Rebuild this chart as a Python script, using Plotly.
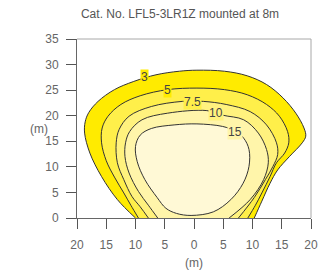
import plotly.graph_objects as go

# ---- data (metres) ----
levels = ["3", "5", "7.5", "10", "15"]
fill_colors = ["#FFEB00", "#FFEF4A", "#FFF27E", "#FFF5AA", "#FFF9D6"]

c3_x = [-10.0, -13.1, -15.8, -17.8, -18.7, -18.6, -18.0, -16.4, -13.6, -10.3, -6.5, -2.5, 0.5, 5.2, 9.1, 12.4, 15.2, 17.4, 18.8, 19.1, 18.5, 16.3, 14.3, 13.0, 11.6, 10.3]
c3_y = [0.0, 3.6, 8.1, 12.7, 16.6, 18.8, 20.6, 22.8, 25.1, 26.7, 28.0, 28.7, 28.9, 28.7, 27.8, 26.1, 23.5, 20.5, 17.6, 16.0, 14.7, 12.0, 9.4, 6.8, 3.3, 0.0]

c5_x = [-9.5, -10.8, -12.0, -13.6, -15.0, -15.8, -15.7, -14.7, -12.5, -9.2, -4.5, 0.5, 5.2, 9.1, 12.4, 14.6, 16.0, 16.2, 15.5, 14.1, 13.0, 11.6, 10.5, 9.2]
c5_y = [0.0, 2.5, 4.9, 8.0, 11.2, 14.7, 17.6, 19.9, 22.2, 23.9, 25.1, 25.4, 25.1, 24.1, 22.2, 19.9, 16.9, 14.7, 12.7, 10.8, 8.1, 4.9, 2.5, 0.0]

c75_x = [-7.8, -9.2, -10.6, -12.0, -13.1, -13.3, -12.8, -11.1, -7.3, -2.0, 1.6, 5.5, 9.6, 12.4, 14.1, 14.3, 13.5, 12.2, 10.3, 7.6]
c75_y = [0.0, 2.2, 4.2, 7.5, 10.8, 14.7, 17.3, 19.9, 21.8, 22.8, 22.8, 22.2, 20.8, 18.2, 14.7, 12.4, 10.1, 7.5, 4.0, 0.0]

c10_x = [-6.2, -7.8, -9.5, -11.1, -11.8, -11.7, -11.0, -8.9, -4.5, 2.2, 4.9, 8.5, 11.0, 12.4, 12.7, 11.9, 9.6, 6.0]
c10_y = [0.0, 2.5, 5.2, 8.8, 12.0, 14.7, 16.9, 19.2, 20.5, 21.0, 20.1, 19.2, 16.6, 13.4, 10.8, 7.5, 3.6, 0.0]

c15_x = [-0.5, -3.0, -4.8, -6.3, -8.4, -9.7, -10.0, -9.2, -7.3, -3.4, 0.5, 4.9, 7.0, 8.5, 9.4, 9.4, 8.4, 6.3, 3.3, -0.5]
c15_y = [0.5, 0.9, 1.9, 4.0, 7.5, 11.0, 14.0, 16.2, 17.5, 18.2, 18.4, 17.9, 17.0, 15.6, 13.4, 10.1, 6.8, 3.6, 1.2, 0.5]

label_x = [-8.4, -4.5, -0.3, 3.7, 7.0]
label_y = [27.5, 25.1, 22.7, 20.6, 16.9]

x_ticks = [-20, -15, -10, -5, 0, 5, 10, 15, 20]
x_ticktext = ["20", "15", "10", "5", "0", "5", "10", "15", "20"]
y_ticks = [0, 5, 10, 15, 20, 25, 30, 35]

title_text = "Cat. No. LFL5-3LR1Z mounted at 8m"

contours = [(c3_x, c3_y), (c5_x, c5_y), (c75_x, c75_y), (c10_x, c10_y), (c15_x, c15_y)]

fig = go.Figure()
for (cx, cy), col, lev in zip(contours, fill_colors, levels):
    fig.add_trace(go.Scatter(
        x=cx, y=cy, mode="lines", fill="toself", fillcolor=col,
        line=dict(color="#333333", width=1, shape="spline", smoothing=1),
        name=lev, hoverinfo="skip", showlegend=False,
    ))

label_bg = ["#FFEB00", "#FFEB00", "#FFEF4A", "#FFF27E", "#FFF5AA"]
for lx, ly, lev, bg in zip(label_x, label_y, levels, label_bg):
    fig.add_annotation(x=lx, y=ly, text=lev, showarrow=False,
                       font=dict(size=12, color="#444444", family="Liberation Sans"),
                       bgcolor=bg, borderpad=0)

fig.add_annotation(text="(m)", xref="paper", yref="paper", x=-0.21, y=0.5,
                   showarrow=False, font=dict(size=12, color="#666666", family="Liberation Sans"))
fig.add_annotation(text="(m)", xref="paper", yref="paper", x=0.5, y=-0.25,
                   showarrow=False, yanchor="middle",
                   font=dict(size=12, color="#666666", family="Liberation Sans"))

# light frame on top and right
fig.add_shape(type="line", xref="paper", yref="paper", x0=0, y0=1, x1=1, y1=1,
              line=dict(color="#a8a8a8", width=1))
fig.add_shape(type="line", xref="paper", yref="paper", x0=1, y0=0, x1=1, y1=1,
              line=dict(color="#a8a8a8", width=1))

fig.update_layout(
    width=328, height=273,
    margin=dict(l=77, r=10, t=39, b=55),
    paper_bgcolor="white", plot_bgcolor="white",
    title=dict(text=title_text, x=180/328, xref="container", xanchor="center",
               y=1 - 14/273, yanchor="middle",
               font=dict(size=12, color="#555555", family="Liberation Sans")),
    font=dict(family="Liberation Sans", size=12, color="#666666"),
    xaxis=dict(range=[-20, 20], tickvals=x_ticks, ticktext=x_ticktext,
               showgrid=False, zeroline=False, showline=True, linecolor="#666666",
               ticks="outside", ticklen=10, tickcolor="#555555", tickwidth=1,
               ticklabelstandoff=6),
    yaxis=dict(range=[0, 35], tickvals=y_ticks,
               showgrid=False, zeroline=False, showline=True, linecolor="#666666",
               ticks="outside", ticklen=10, tickcolor="#555555", tickwidth=1,
               ticklabelstandoff=5),
)

fig.write_html("out.html", config={"displayModeBar": False},
               post_script="document.body.style.margin='0';")
